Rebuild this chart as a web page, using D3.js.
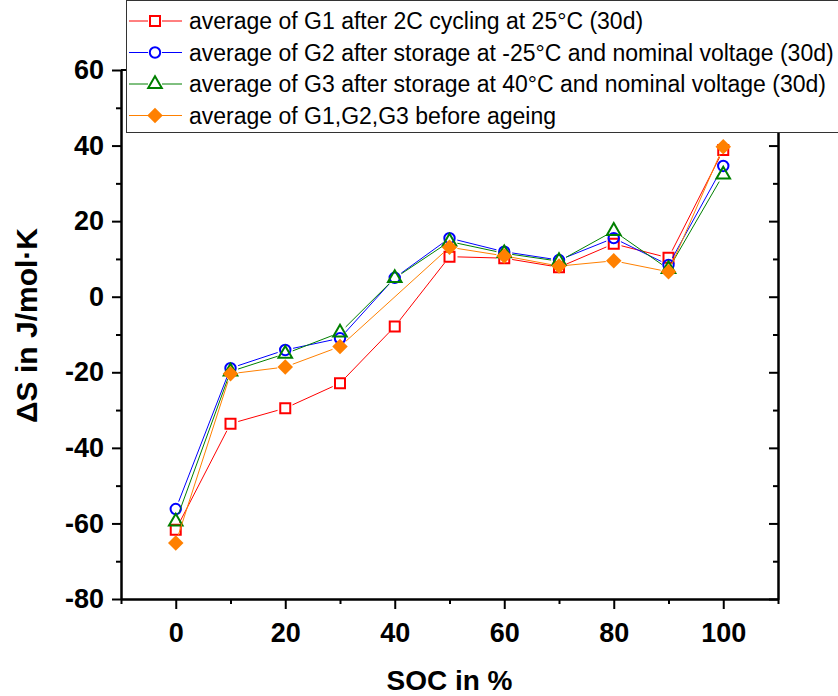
<!DOCTYPE html>
<html>
<head>
<meta charset="utf-8">
<script src="https://cdn.jsdelivr.net/npm/d3@7/dist/d3.min.js"></script>
<style>
  body { margin: 0; background: #fff; }
  text { font-family: "Liberation Sans", Arial, sans-serif; }
</style>
</head>
<body>
<svg id="chart" width="838" height="696"></svg>
<script>
// SOC steps and measured entropy change (J/mol·K)
const soc = [0, 10, 20, 30, 40, 50, 60, 70, 80, 90, 100];
const g1Cycling = [-61.7, -33.6, -29.5, -22.9, -7.9, 10.6, 10.2, 7.8, 14.0, 10.3, 38.8];
const g2Cold = [-56.2, -18.9, -14.1, -11.0, 5.0, 15.5, 11.9, 9.7, 15.5, 8.4, 34.6];
const g3Warm = [-59.5, -19.8, -15.1, -9.5, 4.9, 14.6, 11.5, 9.4, 17.4, 7.3, 32.3];
const beforeAgeing = [-65.2, -20.4, -18.6, -13.2, null, 13.1, 10.8, 8.1, 9.5, 6.6, 39.7];

const seriesNames = [
  'average of G1 after 2C cycling at 25°C (30d)',
  'average of G2 after storage at -25°C and nominal voltage (30d)',
  'average of G3 after storage at 40°C and nominal voltage (30d)',
  'average of G1,G2,G3 before ageing'
];

const xMajor = [0, 20, 40, 60, 80, 100];
const xMinor = [-10, 10, 30, 50, 70, 90, 110];
const yMajor = [-80, -60, -40, -20, 0, 20, 40, 60];
const yMinor = [-70, -50, -30, -10, 10, 30, 50];

const series = [
  { name: seriesNames[0], values: g1Cycling, colour: '#ff0000', shape: 'square' },
  { name: seriesNames[1], values: g2Cold, colour: '#0000ff', shape: 'circle' },
  { name: seriesNames[2], values: g3Warm, colour: '#008000', shape: 'triangle' },
  { name: seriesNames[3], values: beforeAgeing, colour: '#ff8000', shape: 'diamond' }
];

const svg = d3.select('#chart');
const plotLeft = 121, plotRight = 778, plotTop = 70, plotBottom = 599;

const x = d3.scaleLinear().domain([-10, 110]).range([plotLeft, plotRight]);
const y = d3.scaleLinear().domain([-80, 60]).range([plotBottom, plotTop]);

// plain hyphen for negatives, like the original
const plainNumber = d => String(d);

// marker shapes
const symbolFor = {
  square: d3.symbol().type(d3.symbolSquare).size(100),
  circle: d3.symbol().type(d3.symbolCircle).size(85),
  triangle: d3.symbol().type(d3.symbolTriangle).size(80),
  diamond: d3.symbol().type(d3.symbolSquare).size(120)
};

const drawMarker = (g, s, px, py) => {
  const m = g.append('path')
    .attr('d', symbolFor[s.shape]())
    .attr('transform', `translate(${px},${py})` + (s.shape === 'diamond' ? ' rotate(45)' : ''));
  if (s.shape === 'diamond') {
    m.attr('fill', s.colour).attr('stroke', 'none');
  } else {
    m.attr('fill', 'none').attr('stroke', s.colour).attr('stroke-width', 2);
  }
};

// frame top line (mostly under the legend)
svg.append('line').attr('x1', plotLeft).attr('x2', plotRight).attr('y1', plotTop).attr('y2', plotTop)
  .attr('stroke', '#000').attr('stroke-width', 2);

// axes
const axisStyle = g => {
  g.select('.domain').attr('stroke', '#000').attr('stroke-width', 2);
  g.selectAll('.tick line').attr('stroke', '#000').attr('stroke-width', 2);
  g.selectAll('.tick text')
    .attr('fill', '#000')
    .style('font-size', '27px')
    .style('font-weight', 'bold');
};

svg.append('g')
  .attr('transform', `translate(${plotLeft},0)`)
  .call(d3.axisLeft(y).tickValues(yMinor).tickSize(5).tickSizeOuter(0).tickFormat(''))
  .call(axisStyle);
svg.append('g')
  .attr('transform', `translate(${plotLeft},0)`)
  .call(d3.axisLeft(y).tickValues(yMajor).tickSize(9).tickSizeOuter(0).tickPadding(8).tickFormat(plainNumber))
  .call(axisStyle);

svg.append('g')
  .attr('transform', `translate(${plotRight},0)`)
  .call(d3.axisLeft(y).tickValues(yMinor).tickSize(5).tickSizeOuter(0).tickFormat(''))
  .call(axisStyle);
svg.append('g')
  .attr('transform', `translate(${plotRight},0)`)
  .call(d3.axisLeft(y).tickValues(yMajor).tickSize(9).tickSizeOuter(0).tickFormat(''))
  .call(axisStyle);

svg.append('g')
  .attr('transform', `translate(0,${plotBottom})`)
  .call(d3.axisBottom(x).tickValues(xMinor).tickSize(5).tickSizeOuter(0).tickFormat(''))
  .call(axisStyle);
svg.append('g')
  .attr('transform', `translate(0,${plotBottom})`)
  .call(d3.axisBottom(x).tickValues(xMajor).tickSize(10).tickSizeOuter(0).tickPadding(14).tickFormat(plainNumber))
  .call(axisStyle);

// axis titles
svg.append('text')
  .attr('x', (plotLeft + plotRight) / 2).attr('y', 690)
  .attr('text-anchor', 'middle')
  .style('font-size', '28px').style('font-weight', 'bold')
  .text('SOC in %');

svg.append('text')
  .attr('transform', 'translate(37,325.5) rotate(-90)')
  .attr('text-anchor', 'middle')
  .style('font-size', '30px').style('font-weight', 'bold')
  .text('ΔS in J/mol·K');

// series: line segments trimmed near markers, then markers
const plot = svg.append('g');
const gap = 8;
series.forEach(s => {
  const pts = soc.map((v, i) => [v, s.values[i]])
    .filter(d => d[1] !== null)
    .map(d => [x(d[0]), y(d[1])]);
  const g = plot.append('g');
  for (let i = 0; i < pts.length - 1; i++) {
    const [x1, y1] = pts[i], [x2, y2] = pts[i + 1];
    const len = Math.hypot(x2 - x1, y2 - y1);
    if (len <= 2 * gap) continue;
    const ux = (x2 - x1) / len, uy = (y2 - y1) / len;
    g.append('line')
      .attr('x1', x1 + ux * gap).attr('y1', y1 + uy * gap)
      .attr('x2', x2 - ux * gap).attr('y2', y2 - uy * gap)
      .attr('stroke', s.colour).attr('stroke-width', 1);
  }
  pts.forEach(p => drawMarker(g, s, p[0], p[1]));
});

// legend
const legend = svg.append('g');
legend.append('rect')
  .attr('x', 126.5).attr('y', 0.5).attr('width', 720).attr('height', 132)
  .attr('fill', '#fff').attr('stroke', '#333').attr('stroke-width', 1);

const rowY = [21, 52.5, 84, 115.5];
series.forEach((s, i) => {
  const ly = rowY[i];
  legend.append('line').attr('x1', 129).attr('x2', 148).attr('y1', ly).attr('y2', ly)
    .attr('stroke', s.colour).attr('stroke-width', 1);
  legend.append('line').attr('x1', 162).attr('x2', 182).attr('y1', ly).attr('y2', ly)
    .attr('stroke', s.colour).attr('stroke-width', 1);
  drawMarker(legend, s, 155, ly);
  legend.append('text')
    .attr('x', 189).attr('y', ly).attr('dy', '0.36em')
    .style('font-size', '23px')
    .attr('fill', '#000')
    .text(s.name);
});
</script>
</body>
</html>
